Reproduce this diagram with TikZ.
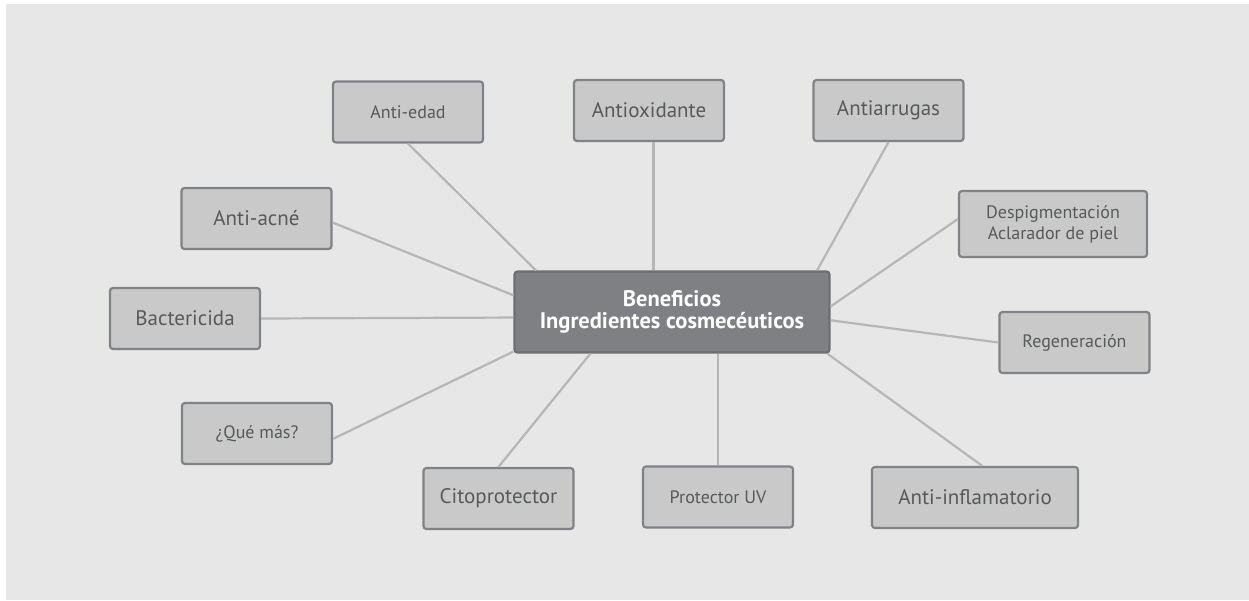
\documentclass[tikz,border=0pt]{standalone}
\usepackage{fontspec}
\setmainfont{PT Sans}
\usepackage{tikz}

\definecolor{bggray}{HTML}{E6E7E6}
\definecolor{boxfill}{HTML}{C8C9C8}
\definecolor{boxline}{HTML}{808287}
\definecolor{txtgray}{HTML}{58595B}
\definecolor{hubfill}{HTML}{7F8084}
\definecolor{hubline}{HTML}{6D6E71}
\definecolor{linkgray}{HTML}{B5B6B5}

\begin{document}
\begin{tikzpicture}[x=1pt, y=-1pt,
    box/.style={draw=boxline, fill=boxfill, line width=2.2pt, rounded corners=3pt,
        minimum width=150pt, minimum height=61pt, text=txtgray, align=center, inner sep=0pt},
    bigtxt/.style={font=\fontsize{21}{24}\selectfont},
    smalltxt/.style={font=\fontsize{18}{21}\selectfont},
    hub/.style={draw=hubline, fill=hubfill, line width=2.2pt, rounded corners=3pt,
        minimum width=315pt, minimum height=81pt, text=white, align=center,
        font=\bfseries\fontsize{22.5}{22}\selectfont},
    link/.style={draw=linkgray, line width=2.2pt}]
    \useasboundingbox (0,0) rectangle (1249,600);
    \fill[white] (0,0) rectangle (1249,600);
    \fill[bggray] (6,4) rectangle (1249,600);

    \node[hub] at (672,312) (benef) {Beneficios\\Ingredientes cosmecéuticos};

    \node[box, smalltxt] at (408,112)    (aedad)  {Anti-edad};
    \node[box, bigtxt]   at (649,110.5)  (antiox) {Antioxidante};
    \node[box, bigtxt]   at (888.5,110.5) (aarrug) {Antiarrugas};
    \node[box, smalltxt, minimum width=188pt, minimum height=66pt] at (1053,224) (despig) {Despigmentación\\Aclarador de piel};
    \node[box, smalltxt] at (1074.5,342.5) (regen) {Regeneración};
    \node[box, bigtxt, minimum width=206pt] at (975,497.5) (ainfl) {Anti-inflamatorio};
    \node[box, smalltxt] at (718,497)    (puv)    {Protector UV};
    \node[box, bigtxt]   at (498.5,498.5) (cito)  {Citoprotector};
    \node[box, smalltxt] at (257,433.5)  (qmas)   {¿Qué más?};
    \node[box, bigtxt]   at (185,318.5)  (bact)   {Bactericida};
    \node[box, bigtxt]   at (256.5,218.5) (aacne) {Anti-acné};

    \draw[link] (aedad.south) -- (benef.163);
    \draw[link] (benef.114) -- (benef.114 |- antiox.south);
    \draw[link] (aarrug.south) -- (benef.16.5);
    \draw[link] (despig.177) -- (benef.2);
    \draw[link] (regen.west) -- (benef.-3);
    \draw[link] (ainfl.77) -- (benef.-15);
    \draw[link] (puv.north) -- (puv.north |- benef.south);
    \draw[link] (cito.north) -- (benef.207);
    \draw[link] (qmas.-4) -- (benef.194.6);
    \draw[link] (bact.east) -- (benef.182);
    \draw[link] (aacne.-3) -- (benef.174.6);
\end{tikzpicture}
\end{document}
